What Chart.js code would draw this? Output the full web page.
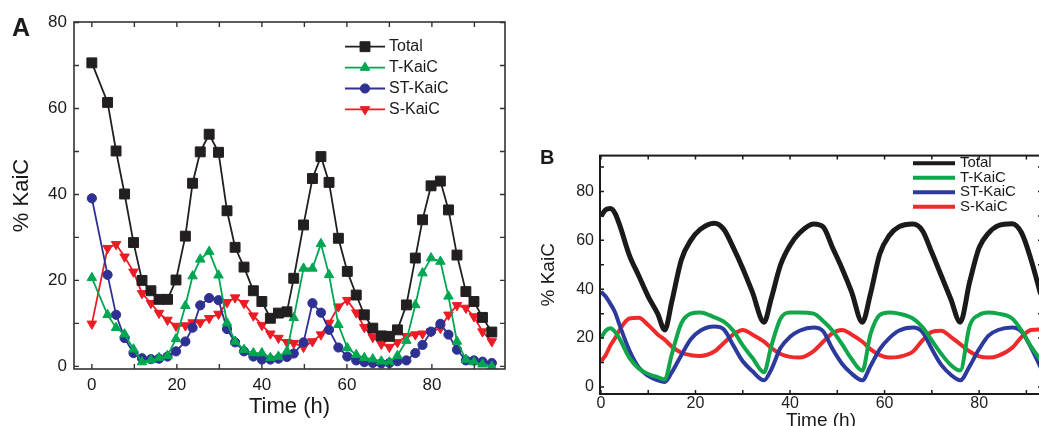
<!DOCTYPE html>
<html><head><meta charset="utf-8">
<script src="https://cdn.jsdelivr.net/npm/chart.js@4/dist/chart.umd.min.js"></script>
<style>
html,body{margin:0;padding:0;background:#fff;overflow:hidden;width:1039px;height:426px;position:relative;}
#ca{position:absolute;left:0;top:0;}
#cb{position:absolute;left:530px;top:140px;}
.lbl{position:absolute;font-family:"Liberation Sans",Arial,sans-serif;font-weight:bold;color:#1a1a1a;line-height:1;}
</style></head><body>
<canvas id="ca" width="520" height="426"></canvas>
<canvas id="cb" width="520" height="300"></canvas>
<div class="lbl" style="left:12px;top:15px;font-size:25px;">A</div>
<div class="lbl" style="left:540px;top:147px;font-size:20px;">B</div>
<script>
// ---------- Panel A (measured) ----------
const hoursA = [0,3.7,5.7,7.7,9.8,11.8,13.9,15.8,17.8,19.8,22,23.7,25.5,27.6,29.8,31.8,33.7,35.8,38,40,42,43.9,45.9,47.5,49.8,51.9,53.9,55.8,58,60.1,62.2,64.1,66.1,68.1,70,71.9,74,76.1,77.8,79.8,82,83.9,85.9,88,89.9,91.9,94.1];
const totalA  = [70.6,61.4,50.1,40.1,28.8,20,17.6,15.6,15.6,20.1,30.3,42.6,49.9,54,49.8,36.2,27.7,23.1,17.6,15.1,11.2,12.4,12.7,20.5,32.9,43.7,48.8,42.8,29.8,22.1,16.6,12,8.9,7.1,7,8.5,14.3,25.2,34.1,42,43.1,36.4,25.9,17.4,15.1,11.4,8];
const tKaiCA  = [20.6,12,9,7.5,4,1,1.5,2,2.5,6.4,14.1,21,24.9,26.7,21.2,10.1,5.8,3.9,3.1,3.1,2,2.3,3.5,11.3,22.8,22.8,28.5,21.3,9.7,4.3,2.7,2,1.7,1.2,1,2.5,6,14.3,21.7,25.2,24.4,16.3,5.8,1.6,1,0.5,0];
const stKaiCA = [39.1,21.3,12,6.6,3.1,1.9,1.7,1.8,2.3,3.5,5.8,9,14.2,15.9,15.4,8.7,5.6,3.5,2.3,1.6,1.6,1.8,2.2,3,5.6,14.7,12.5,8.5,4.4,2.3,1.4,1,0.8,0.7,0.8,1.2,1.4,3.1,5,8.1,9.9,7.4,3.9,1.4,1.4,1.1,0.8];
const sKaiCA  = [9.9,27.5,28.4,25.5,22,17,14.7,12.4,10.8,9.4,9.5,10.2,10.2,11.2,12.2,14.9,16,14.7,11.8,9.6,7.6,6.6,5.6,5.4,4.5,5.8,7.4,10.1,13.9,15.4,12.5,9.1,6.8,5.2,4.5,5.6,7,7.4,7.6,8.1,8.9,12,14.2,13.6,11.6,8.1,5.8];
const xTickLabelsA = [0,20,40,60,80];
const yTickLabelsA = [0,20,40,60,80];
const xTickMarksA = [0,10,20,30,40,50,60,70,80,90];
const yTickMarksA = [0,10,20,30,40,50,60,70,80];

// ---------- Panel B (model) ----------
const hoursB = [0,1,2,3,4,6,8,10,12,13.5,15,17,19,21,24,26,28,30,32,34.5,36,38,40,42,45,47,49,51,53,55.3,57,59,61,63,66,68,70,72,74,76,78,80,82,84,87,89,91,93];
const totalB  = [70,72.5,73,71,66,54,45.5,37,30,23.3,35,52,60,64.5,67,64.5,57,48.5,39,26.5,36,50,58,63,66.7,65.5,57,48.5,39,26.5,38,54.5,62,65.5,66.7,64,55,45.5,36,26.5,43,57,63,66,66.8,63,52,38];
const tKaiCB  = [20,23,24,22.5,19.5,12,7.5,5.3,4,3,13.5,26,30,30.5,28.5,26.7,23,17,12,6,16.5,28,30.5,30.5,30,27,23,17.5,11.5,6.7,21.5,29.5,30.5,30,28,24.5,19,13.5,9,6.7,25,29.5,30.5,30,28,23,16.5,11];
const stKaiCB = [39,37,34,30.5,25,15,8,4.5,2.7,2,6,13,19.5,23,24.7,23.5,17,10.5,6.5,2.7,7,16,20.5,23,24.3,22.8,15.5,9.5,5.5,2.7,8.5,15.5,20,23,24.3,22.5,15.5,9,5,2.7,8.5,15.5,21,23.3,24.3,22.5,16,8];
const sKaiCB  = [10.5,13,17,20,23.5,28,28.3,25.3,21.5,19.3,16.5,14,13,12.7,14.5,18,21.5,23.3,21.5,18.5,16,13.5,12.3,12,14.7,18.5,22,23.3,21.5,18.5,15.5,13,12,12.3,14.5,19,22.5,23,20.5,17.5,14.5,12.5,12,12.7,16,20.5,23.3,23.5];
const xTickLabelsB = [0,20,40,60,80];
const yTickLabelsB = [0,20,40,60,80];
const xTickMarksB = [0,10,20,30,40,50,60,70,80,90];
const yTickMarksB = [0,10,20,30,40,50,60,70,80,90];

const seriesNames = ['Total','T-KaiC','ST-KaiC','S-KaiC'];

Chart.defaults.font.family = '"Liberation Sans", Arial, Helvetica, sans-serif';

function pts(xs, ys){ return xs.map((x,i)=>({x:x, y:ys[i]})); }

function drawMarker(ctx, style, r, rot, x, y){
  ctx.beginPath();
  if (style === 'rect') {
    const s = r * Math.SQRT1_2;
    ctx.rect(x - s, y - s, 2*s, 2*s);
  } else if (style === 'circle') {
    ctx.arc(x, y, r, 0, Math.PI*2);
  } else {
    let a = rot * Math.PI/180;
    for (let k=0;k<3;k++){
      const px = x + Math.sin(a)*r, py = y - Math.cos(a)*r;
      if (k===0) ctx.moveTo(px,py); else ctx.lineTo(px,py);
      a += 2*Math.PI/3;
    }
    ctx.closePath();
  }
  ctx.fill(); ctx.stroke();
}

const framePlugin = {
  id: 'frame',
  afterDatasetsDraw(chart, args, o){
    const {ctx, chartArea:a} = chart;
    const xs = chart.scales.x, ys = chart.scales.y;
    ctx.save();
    ctx.strokeStyle = o.color;
    ctx.lineWidth = o.tickWidth;
    ctx.beginPath();
    o.xMarks.forEach(v=>{
      const p = xs.getPixelForValue(v);
      if (p < a.left-0.5 || p > a.right+0.5) return;
      ctx.moveTo(p, a.bottom); ctx.lineTo(p, a.bottom - o.len);
      ctx.moveTo(p, a.top); ctx.lineTo(p, a.top + o.len);
    });
    o.yMarks.forEach(v=>{
      const p = ys.getPixelForValue(v);
      if (p < a.top-0.5 || p > a.bottom+0.5) return;
      ctx.moveTo(a.left, p); ctx.lineTo(a.left + o.len, p);
      ctx.moveTo(a.right, p); ctx.lineTo(a.right - o.len, p);
    });
    ctx.stroke();
    ctx.lineWidth = o.width;
    ctx.strokeRect(a.left, a.top, a.right - a.left, a.bottom - a.top);
    ctx.restore();
  }
};

const legendPlugin = {
  id: 'insetLegend',
  afterDraw(chart, args, o){
    const ctx = chart.ctx;
    ctx.save();
    ctx.font = o.font;
    ctx.textBaseline = 'middle';
    ctx.textAlign = 'left';
    chart.data.datasets.forEach((ds,i)=>{
      const y = o.y + i*o.dy;
      ctx.strokeStyle = ds.borderColor;
      ctx.lineWidth = o.lineWidth;
      ctx.lineCap = 'butt';
      ctx.beginPath(); ctx.moveTo(o.x, y); ctx.lineTo(o.x + o.len, y); ctx.stroke();
      if (o.markers) {
        ctx.fillStyle = ds.pointBackgroundColor;
        ctx.strokeStyle = ds.pointBorderColor;
        ctx.lineWidth = 1;
        drawMarker(ctx, ds.pointStyle, ds.pointRadius, ds.pointRotation || 0, o.x + o.len/2, y);
      }
      ctx.fillStyle = o.color;
      ctx.fillText(ds.label, o.x + o.len + o.gap, y);
    });
    ctx.restore();
  }
};

function dsA(label, ys, color, style, r, rot){
  return {label, data: pts(hoursA, ys), borderColor: color, backgroundColor: color,
    pointBackgroundColor: color, pointBorderColor: color, pointBorderWidth: 1,
    pointStyle: style, pointRadius: r, pointRotation: rot, borderWidth: 1.8, tension: 0};
}
function dsB(label, ys, color, w){
  return {label, data: pts(hoursB, ys), borderColor: color, backgroundColor: color,
    pointRadius: 0, borderWidth: w, cubicInterpolationMode: 'monotone', borderJoinStyle: 'round'};
}

new Chart(document.getElementById('ca'), {
  type: 'line',
  data: { datasets: [
    dsA(seriesNames[0], totalA, '#231f20', 'rect', 7, 0),
    dsA(seriesNames[1], tKaiCA, '#00a651', 'triangle', 5.5, 0),
    dsA(seriesNames[2], stKaiCA, '#2e3192', 'circle', 4.6, 0),
    dsA(seriesNames[3], sKaiCA, '#ed1c24', 'triangle', 5.5, 180)
  ]},
  plugins: [framePlugin, legendPlugin],
  options: {
    responsive: false, animation: false, events: [],
    layout: {padding: {left: 0, top: 22, right: 15, bottom: 0}},
    plugins: {
      legend: {display: false}, tooltip: {enabled: false},
      frame: {color: '#333', width: 1.6, tickWidth: 1.4, len: 5, xMarks: xTickMarksA, yMarks: yTickMarksA},
      insetLegend: {x: 345, y: 46.7, dy: 20.9, len: 40, gap: 4, lineWidth: 1.8, markers: true,
        font: '16px "Liberation Sans", Arial, sans-serif', color: '#1a1a1a'}
    },
    scales: {
      x: {type: 'linear', min: -4.2, max: 97.2,
        grid: {display: false, drawTicks: false}, border: {display: false},
        afterBuildTicks: s => { s.ticks = xTickLabelsA.map(v => ({value: v})); },
        afterFit: s => { s.height = 57; },
        ticks: {padding: 6, color: '#1a1a1a', font: {size: 17}},
        title: {display: true, text: 'Time (h)', color: '#1a1a1a', font: {size: 22}, padding: {top: 0, bottom: 6}}
      },
      y: {type: 'linear', min: -0.6, max: 80.1,
        grid: {display: false, drawTicks: false}, border: {display: false},
        afterBuildTicks: s => { s.ticks = yTickLabelsA.map(v => ({value: v})); },
        afterFit: s => { s.width = 74; },
        ticks: {padding: 7, color: '#1a1a1a', font: {size: 17}},
        title: {display: true, text: '% KaiC', color: '#1a1a1a', font: {size: 22}, padding: {top: 9, bottom: 0}}
      }
    }
  }
});

new Chart(document.getElementById('cb'), {
  type: 'line',
  data: { datasets: [
    dsB(seriesNames[0], totalB, '#1a1a1a', 5),
    dsB(seriesNames[1], tKaiCB, '#12a64a', 4),
    dsB(seriesNames[2], stKaiCB, '#2b3a9c', 4),
    dsB(seriesNames[3], sKaiCB, '#ee2b2b', 4)
  ]},
  plugins: [framePlugin, legendPlugin],
  options: {
    responsive: false, animation: false, events: [],
    layout: {padding: {left: 0, top: 10, right: 8, bottom: 0}},
    plugins: {
      legend: {display: false}, tooltip: {enabled: false},
      frame: {color: '#1a1a1a', width: 2, tickWidth: 1.5, len: 4, xMarks: xTickMarksB, yMarks: yTickMarksB},
      insetLegend: {x: 383, y: 23.3, dy: 14.5, len: 42, gap: 5, lineWidth: 4, markers: false,
        font: '15px "Liberation Sans", Arial, sans-serif', color: '#1a1a1a'}
    },
    scales: {
      x: {type: 'linear', min: -0.2, max: 93.3,
        grid: {display: false, drawTicks: false}, border: {display: false},
        afterBuildTicks: s => { s.ticks = xTickLabelsB.map(v => ({value: v})); },
        afterFit: s => { s.height = 46; },
        ticks: {padding: 0, color: '#222', font: {size: 16}},
        title: {display: true, text: 'Time (h)', color: '#1a1a1a', font: {size: 19}, padding: {top: 0, bottom: 8}}
      },
      y: {type: 'linear', min: -2.9, max: 94.7,
        grid: {display: false, drawTicks: false}, border: {display: false},
        afterBuildTicks: s => { s.ticks = yTickLabelsB.map(v => ({value: v})); },
        afterFit: s => { s.width = 70; },
        ticks: {padding: 6, color: '#222', font: {size: 16}},
        title: {display: true, text: '% KaiC', color: '#1a1a1a', font: {size: 19}, padding: {top: 7, bottom: 0}}
      }
    }
  }
});
</script>
</body></html>
